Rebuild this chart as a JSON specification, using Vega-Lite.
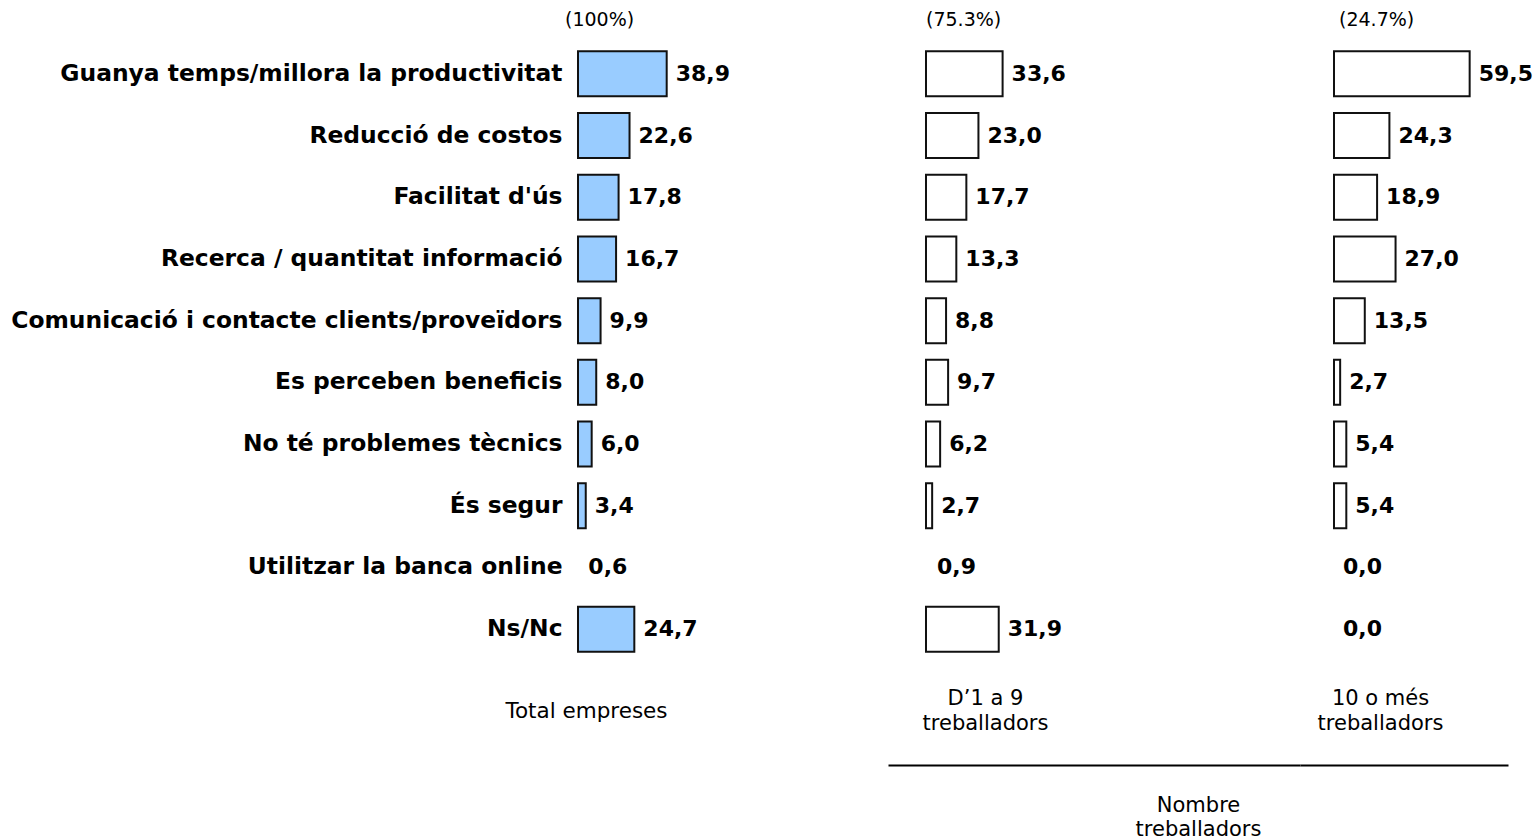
{
  "$schema": "https://vega.github.io/schema/vega-lite/v6.json",
  "padding": {"left": 5, "top": 11, "right": 5, "bottom": 5},
  "background": "#ffffff",
  "config": {
    "view": {"stroke": null},
    "font": "DejaVu Sans",
    "locale": {"number": {"decimal": ",", "thousands": ".", "grouping": [3], "currency": ["", " €"]}},
    "title": {"color": "#000000", "fontWeight": "normal", "fontSize": 19, "frame": "group", "anchor": "start", "offset": 13},
    "axis": {"labelColor": "#000000", "titleColor": "#000000", "grid": false}
  },
  "datasets": {
    "d": [
      {"cat": "Guanya temps/millora la productivitat", "total": 38.9, "petites": 33.6, "grans": 59.5},
      {"cat": "Reducció de costos", "total": 22.6, "petites": 23.0, "grans": 24.3},
      {"cat": "Facilitat d'ús", "total": 17.8, "petites": 17.7, "grans": 18.9},
      {"cat": "Recerca / quantitat informació", "total": 16.7, "petites": 13.3, "grans": 27.0},
      {"cat": "Comunicació i contacte clients/proveïdors", "total": 9.9, "petites": 8.8, "grans": 13.5},
      {"cat": "Es perceben beneficis", "total": 8.0, "petites": 9.7, "grans": 2.7},
      {"cat": "No té problemes tècnics", "total": 6.0, "petites": 6.2, "grans": 5.4},
      {"cat": "És segur", "total": 3.4, "petites": 2.7, "grans": 5.4},
      {"cat": "Utilitzar la banca online", "total": 0.6, "petites": 0.9, "grans": 0.0},
      {"cat": "Ns/Nc", "total": 24.7, "petites": 31.9, "grans": 0.0}
    ]
  },
  "bounds": "flush",
  "spacing": 0,
  "hconcat": [
    {
      "width": 310,
      "height": 617,
      "data": {"name": "d"},
      "title": {"text": "(100%)", "dx": -13},
      "encoding": {
        "y": {"field": "cat", "type": "nominal",
              "sort": ["Guanya temps/millora la productivitat", "Reducció de costos", "Facilitat d'ús", "Recerca / quantitat informació", "Comunicació i contacte clients/proveïdors", "Es perceben beneficis", "No té problemes tècnics", "És segur", "Utilitzar la banca online", "Ns/Nc"],
              "scale": {"paddingInner": 0.27, "paddingOuter": 0.135},
              "axis": {"title": null, "domain": false, "ticks": false, "labelPadding": 16, "labelFontSize": 23.4, "labelFontWeight": "bold", "labelLimit": 0, "minExtent": 573, "maxExtent": 573}},
        "x": {"field": "total", "type": "quantitative",
              "scale": {"domain": [0, 135.96], "nice": false, "zero": false},
              "axis": {"labels": false, "ticks": false, "domain": false, "title": "Total empreses", "titleX": 8, "titleY": 51, "titleAlign": "center", "titleBaseline": "middle", "titleFontWeight": "normal", "titleFontSize": 21.5}}
      },
      "layer": [
        {"transform": [{"filter": "datum.total >= 1"}],
         "mark": {"type": "bar", "fill": "#99CCFF", "stroke": "#111111", "strokeWidth": 2},
         "encoding": {"x2": {"datum": 0}}},
        {"mark": {"type": "text", "align": "left", "baseline": "middle", "dx": 9, "fontSize": 22, "fontWeight": "bold", "color": "#000000"},
         "encoding": {"text": {"field": "total", "type": "quantitative", "format": ".1f"}}}
      ]
    },
    {
      "width": 412,
      "height": 617,
      "data": {"name": "d"},
      "title": {"text": "(75.3%)", "dx": 38},
      "encoding": {
        "y": {"field": "cat", "type": "nominal",
              "sort": ["Guanya temps/millora la productivitat", "Reducció de costos", "Facilitat d'ús", "Recerca / quantitat informació", "Comunicació i contacte clients/proveïdors", "Es perceben beneficis", "No té problemes tècnics", "És segur", "Utilitzar la banca online", "Ns/Nc"],
              "scale": {"paddingInner": 0.27, "paddingOuter": 0.135}, "axis": null}
      },
      "resolve": {"scale": {"x": "shared"}, "axis": {"x": "independent"}},
      "layer": [
        {"transform": [{"filter": "datum.petites >= 1"}],
         "mark": {"type": "bar", "fill": "#ffffff", "stroke": "#111111", "strokeWidth": 2},
         "encoding": {
           "x": {"field": "petites", "type": "quantitative",
                 "scale": {"domain": [-16.667, 164.04], "nice": false, "zero": false},
                 "axis": {"orient": "bottom", "labels": false, "ticks": false, "domain": false, "title": ["D’1 a 9", "treballadors"], "titleX": 97, "titleY": 38, "titleAlign": "center", "titleBaseline": "middle", "titleFontWeight": "normal", "titleFontSize": 21, "titleLineHeight": 25}},
           "x2": {"datum": 0}}},
        {"mark": {"type": "text", "align": "left", "baseline": "middle", "dx": 9, "fontSize": 22, "fontWeight": "bold", "color": "#000000"},
         "encoding": {
           "x": {"field": "petites", "type": "quantitative",
                 "scale": {"domain": [-16.667, 164.04], "nice": false, "zero": false},
                 "axis": {"orient": "bottom", "offset": 105, "labels": false, "ticks": false, "domain": true, "domainColor": "#000000", "domainWidth": 2, "title": ["Nombre", "treballadors"], "titleX": 310, "titleY": 40, "titleAlign": "center", "titleBaseline": "middle", "titleFontWeight": "normal", "titleFontSize": 21, "titleLineHeight": 24}},
           "text": {"field": "petites", "type": "quantitative", "format": ".1f"}}}
      ]
    },
    {
      "width": 208,
      "height": 617,
      "data": {"name": "d"},
      "title": {"text": "(24.7%)", "dx": 39},
      "encoding": {
        "y": {"field": "cat", "type": "nominal",
              "sort": ["Guanya temps/millora la productivitat", "Reducció de costos", "Facilitat d'ús", "Recerca / quantitat informació", "Comunicació i contacte clients/proveïdors", "Es perceben beneficis", "No té problemes tècnics", "És segur", "Utilitzar la banca online", "Ns/Nc"],
              "scale": {"paddingInner": 0.27, "paddingOuter": 0.135}, "axis": null}
      },
      "resolve": {"scale": {"x": "shared"}, "axis": {"x": "independent"}},
      "layer": [
        {"transform": [{"filter": "datum.grans >= 1"}],
         "mark": {"type": "bar", "fill": "#ffffff", "stroke": "#111111", "strokeWidth": 2},
         "encoding": {
           "x": {"field": "grans", "type": "quantitative",
                 "scale": {"domain": [-14.912, 76.316], "nice": false, "zero": false},
                 "axis": {"orient": "bottom", "labels": false, "ticks": false, "domain": false, "title": ["10 o més", "treballadors"], "titleX": 80, "titleY": 38, "titleAlign": "center", "titleBaseline": "middle", "titleFontWeight": "normal", "titleFontSize": 21, "titleLineHeight": 25}},
           "x2": {"datum": 0}}},
        {"mark": {"type": "text", "align": "left", "baseline": "middle", "dx": 9, "fontSize": 22, "fontWeight": "bold", "color": "#000000"},
         "encoding": {
           "x": {"field": "grans", "type": "quantitative",
                 "scale": {"domain": [-14.912, 76.316], "nice": false, "zero": false},
                 "axis": {"orient": "bottom", "offset": 105, "labels": false, "ticks": false, "domain": true, "domainColor": "#000000", "domainWidth": 2, "title": null}},
           "text": {"field": "grans", "type": "quantitative", "format": ".1f"}}}
      ]
    }
  ]
}
